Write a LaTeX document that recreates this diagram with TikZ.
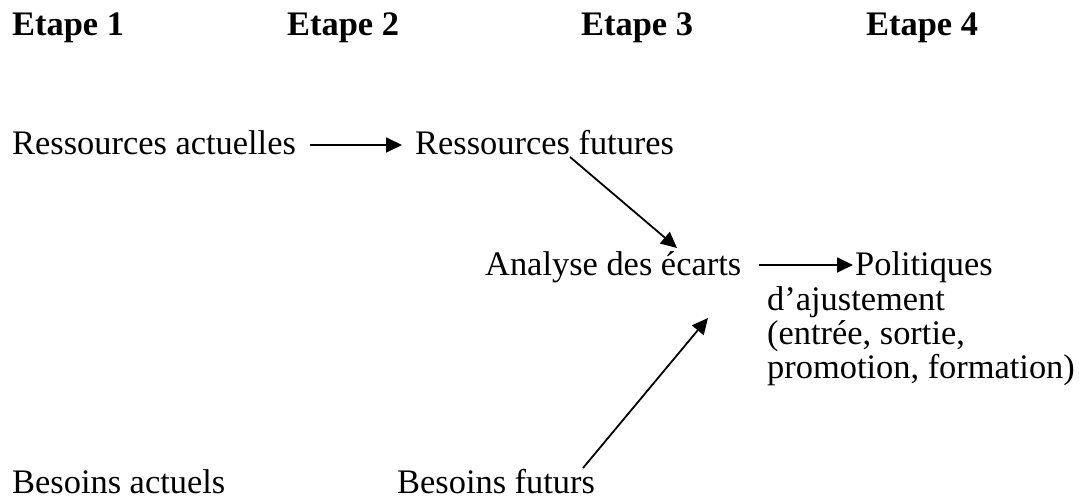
\documentclass[tikz,border=0pt]{standalone}
\usepackage{fontspec}
\setmainfont{Liberation Serif}
\usetikzlibrary{arrows.meta}
\begin{document}
\begin{tikzpicture}[x=1pt,y=-1pt,
  txt/.style={anchor=base west,inner sep=0pt,font=\fontsize{34.4}{34}\selectfont},
  head/.style={anchor=base west,inner sep=0pt,font=\fontsize{34.4}{34}\selectfont\bfseries},
  link/.style={line width=1.8pt,-{Triangle[length=16pt,width=15pt]}}]
\useasboundingbox (0,0) rectangle (1079,497);

% step headings
\node[head] (e1) at (12,36)  {Etape 1};
\node[head] (e2) at (287,36) {Etape 2};
\node[head] (e3) at (581,36) {Etape 3};
\node[head] (e4) at (866,36) {Etape 4};

% items
\node[txt] (ra)  at (12,155)  {Ressources actuelles};
\node[txt] (rf)  at (415,155) {Ressources futures};
\node[txt] (an)  at (485,275) {Analyse des écarts};
\node[txt] (pol) at (855,275) {Politiques};
\node[txt] (adj1) at (767,310) {d’ajustement};
\node[txt] (adj2) at (767,344) {(entrée, sortie,};
\node[txt] (adj3) at (767,378) {promotion, formation)};
\node[txt] (ba)  at (12,493)  {Besoins actuels};
\node[txt] (bf)  at (397,493) {Besoins futurs};

% connectors
\draw[link] ([shift={(14,-10)}]ra.base east) -- ([shift={(-13,-10)}]rf.base west);
\draw[link] ([shift={(155,2)}]rf.base west) -- ([shift={(192,-27)}]an.base west);
\draw[link] ([shift={(18,-10)}]an.base east) -- ([shift={(-2,-10)}]pol.base west);
\draw[link] ([shift={(186,-25)}]bf.base west) -- ([shift={(223,43)}]an.base west);
\end{tikzpicture}
\end{document}
